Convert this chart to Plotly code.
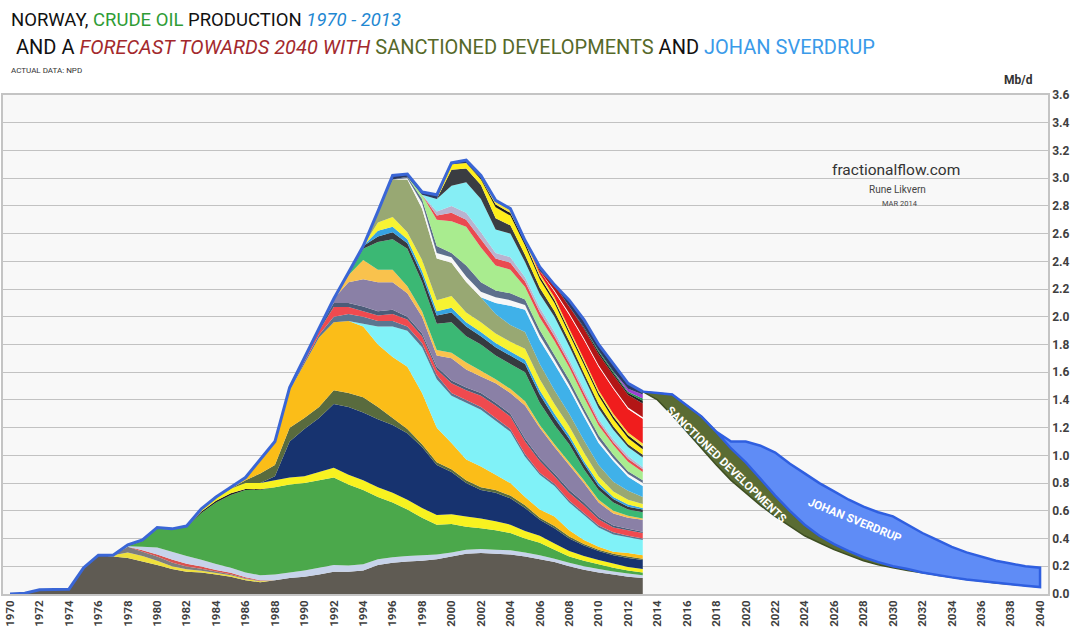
import plotly.graph_objects as go

# ---------------- historical data (Mb/d), 1970-2013 ----------------
years = list(range(1970, 2014))

total = [0.0, 0.006, 0.03, 0.032, 0.035, 0.19, 0.28, 0.28, 0.355, 0.39,
         0.48, 0.47, 0.49, 0.615, 0.70, 0.77, 0.84, 0.97, 1.10, 1.49,
         1.70, 1.92, 2.13, 2.32, 2.51, 2.76, 3.02, 3.03, 2.90, 2.88,
         3.11, 3.13, 3.02, 2.84, 2.78, 2.55, 2.36, 2.23, 2.12, 1.98,
         1.80, 1.66, 1.52, 1.46]

ekofisk = [0.0, 0.006, 0.03, 0.032, 0.035, 0.19, 0.28, 0.27, 0.26, 0.235,
           0.21, 0.18, 0.16, 0.155, 0.14, 0.125, 0.10, 0.085, 0.10, 0.115,
           0.125, 0.14, 0.16, 0.16, 0.17, 0.21, 0.225, 0.235, 0.24, 0.25,
           0.27, 0.29, 0.295, 0.29, 0.285, 0.27, 0.25, 0.23, 0.20, 0.175,
           0.155, 0.14, 0.125, 0.115]

# (first year, values from that year on)
field_y1 = (1977, [0.01, 0.04, 0.04, 0.03, 0.02, 0.018, 0.013, 0.012, 0.01, 0.008, 0.007])
field_g2 = (1978, [0.04, 0.03, 0.03, 0.028, 0.02, 0.015, 0.01, 0.008, 0.005, 0.003])
field_r1 = (1979, [0.01, 0.015, 0.02, 0.02, 0.015, 0.012, 0.01, 0.007, 0.005])
field_lav = (1978, [0.005, 0.025, 0.05, 0.057, 0.057, 0.049, 0.043, 0.037, 0.035, 0.035,
                    0.04, 0.04, 0.045, 0.05, 0.05, 0.045, 0.045, 0.04, 0.04, 0.04,
                    0.04, 0.035, 0.03, 0.03, 0.03, 0.03, 0.03, 0.03, 0.03, 0.025,
                    0.025, 0.025, 0.025, 0.023, 0.023, 0.02])
statfjord = (1979, [0.04, 0.135, 0.16, 0.21, 0.338, 0.443, 0.525, 0.595, 0.615, 0.63,
                    0.635, 0.63, 0.63, 0.63, 0.585, 0.535, 0.45, 0.395, 0.335, 0.27,
                    0.215, 0.205, 0.165, 0.15, 0.14, 0.125, 0.10, 0.09, 0.065, 0.045,
                    0.04, 0.035, 0.027, 0.022, 0.02])
field_bk1 = (1983, [0.01, 0.012, 0.012, 0.008, 0.006])
field_y2 = (1983, [0.015, 0.023, 0.033, 0.042, 0.044, 0.05, 0.05, 0.05, 0.06, 0.07,
                   0.07, 0.07, 0.07, 0.07, 0.07, 0.07, 0.07, 0.07, 0.075, 0.07,
                   0.065, 0.06, 0.055, 0.05, 0.045, 0.04, 0.035, 0.03, 0.03, 0.025, 0.025])
field_navy = (1988, [0.03, 0.26, 0.34, 0.39, 0.46, 0.49, 0.49, 0.49, 0.49, 0.48,
                     0.44, 0.36, 0.305, 0.24, 0.205, 0.205, 0.19, 0.165, 0.115, 0.11,
                     0.09, 0.075, 0.065, 0.06, 0.065, 0.065])
field_olive = (1986, [0.02, 0.07, 0.08, 0.10, 0.08, 0.08, 0.10, 0.10, 0.11, 0.09,
                      0.05, 0.03, 0.02, 0.02, 0.02, 0.02, 0.02, 0.02, 0.02, 0.02,
                      0.015, 0.015, 0.015, 0.01, 0.01, 0.01, 0.01, 0.01])
field_gold = (1986, [0.02, 0.10, 0.16, 0.27, 0.39, 0.50, 0.49, 0.52, 0.51, 0.45,
                     0.44, 0.45, 0.37, 0.25, 0.19, 0.15, 0.15, 0.11, 0.09, 0.06,
                     0.06, 0.07, 0.045, 0.03, 0.02, 0.015, 0.025, 0.025])
field_cyan = (1994, [0.02, 0.13, 0.22, 0.26, 0.33, 0.35, 0.34, 0.41, 0.41, 0.39,
                     0.37, 0.29, 0.25, 0.22, 0.20, 0.18, 0.14, 0.125, 0.115, 0.11])
field_slate1 = (1989, [0.01, 0.015, 0.02, 0.04, 0.05, 0.05, 0.04, 0.04, 0.03, 0.03,
                       0.03, 0.02, 0.02, 0.02, 0.02, 0.02, 0.02, 0.015, 0.015, 0.015,
                       0.015, 0.015, 0.015, 0.01, 0.01])
field_red2 = (1989, [0.007, 0.015, 0.03, 0.07, 0.05, 0.04, 0.04, 0.05, 0.05, 0.05,
                     0.04, 0.07, 0.07, 0.08, 0.09, 0.09, 0.09, 0.085, 0.055, 0.055,
                     0.055, 0.045, 0.035, 0.04, 0.04])
field_dslate = (1989, [0.003, 0.01, 0.015, 0.03, 0.03, 0.035, 0.03, 0.03, 0.02, 0.02,
                       0.02, 0.02, 0.02, 0.02, 0.02, 0.02, 0.02, 0.02, 0.02, 0.02,
                       0.02, 0.015, 0.015, 0.01, 0.01])
field_purple = (1992, [0.03, 0.15, 0.195, 0.21, 0.20, 0.17, 0.12, 0.08, 0.16, 0.13,
                       0.12, 0.14, 0.15, 0.24, 0.22, 0.19, 0.18, 0.14, 0.105, 0.085,
                       0.08, 0.085])
field_gold2 = (1993, [0.05, 0.14, 0.09, 0.09, 0.05, 0.04, 0.04, 0.04, 0.05, 0.04,
                      0.03, 0.03, 0.03, 0.02, 0.02, 0.02, 0.02, 0.02, 0.02, 0.015, 0.01])
field_green2 = (1994, [0.08, 0.20, 0.22, 0.27, 0.21, 0.19, 0.22, 0.19, 0.19, 0.17,
                       0.18, 0.21, 0.16, 0.14, 0.13, 0.08, 0.07, 0.06, 0.045, 0.045])
field_dark = (1994, [0.02, 0.04, 0.05, 0.04, 0.05, 0.06, 0.07, 0.07, 0.06, 0.06,
                     0.06, 0.06, 0.06, 0.05, 0.04, 0.04, 0.03, 0.025, 0.02, 0.02])
field_blue = (1995, [0.04, 0.04, 0.03, 0.03, 0.03, 0.036, 0.03, 0.03, 0.03, 0.03,
                     0.03, 0.03, 0.03, 0.025, 0.02, 0.02, 0.015, 0.015, 0.01])
field_y3 = (1995, [0.06, 0.07, 0.05, 0.08, 0.08, 0.084, 0.07, 0.07, 0.07, 0.07,
                   0.08, 0.08, 0.07, 0.065, 0.06, 0.05, 0.04, 0.035, 0.03])
field_sage = (1995, [0.08, 0.27, 0.38, 0.37, 0.30, 0.24, 0.22, 0.18, 0.14, 0.12,
                     0.12, 0.11, 0.10, 0.09, 0.09, 0.08, 0.07, 0.065, 0.05])
field_grane = (2003, [0.08, 0.14, 0.16, 0.17, 0.19, 0.18, 0.17, 0.16, 0.15, 0.10, 0.08])
field_white = (1997, [0.01, 0.04, 0.04, 0.04, 0.04, 0.04, 0.04, 0.04, 0.035, 0.035,
                      0.03, 0.03, 0.03, 0.025, 0.02, 0.02, 0.02])
field_slate3 = (1997, [0.01, 0.03, 0.05, 0.03, 0.08, 0.07, 0.05, 0.05, 0.04, 0.04,
                       0.035, 0.035, 0.03, 0.03, 0.025, 0.02, 0.02])
field_lgreen = (1998, [0.03, 0.19, 0.23, 0.28, 0.25, 0.18, 0.17, 0.09, 0.09, 0.10,
                       0.09, 0.08, 0.07, 0.07, 0.07, 0.06])
field_red3 = (1999, [0.03, 0.06, 0.05, 0.06, 0.05, 0.05, 0.04, 0.04, 0.035, 0.03,
                     0.03, 0.025, 0.02, 0.02, 0.02])
field_lav3 = (1999, [0.03, 0.05, 0.05, 0.05, 0.04, 0.04, 0.03, 0.03, 0.03, 0.025,
                     0.025, 0.02, 0.02, 0.02, 0.015])
field_cyan2 = (1999, [0.09, 0.145, 0.22, 0.24, 0.17, 0.17, 0.11, 0.10, 0.11, 0.10,
                      0.09, 0.08, 0.07, 0.065, 0.07])
field_dark2 = (2000, [0.115, 0.10, 0.10, 0.08, 0.06, 0.05, 0.045, 0.04, 0.035, 0.03,
                      0.03, 0.025, 0.02, 0.02])
field_y4 = (2000, [0.04, 0.04, 0.04, 0.08, 0.07, 0.07, 0.06, 0.06, 0.05, 0.06,
                   0.06, 0.05, 0.045, 0.04])
field_bk3 = (2002, [0.01, 0.02, 0.02, 0.02, 0.02, 0.02, 0.02, 0.02, 0.02, 0.02, 0.02, 0.02])
field_y5 = (2003, [0.02, 0.02, 0.02, 0.02, 0.02, 0.02, 0.02, 0.02, 0.02, 0.02, 0.02])
field_red4 = (2006, [0.02, 0.04, 0.10, 0.14, 0.17, 0.18, 0.17, 0.18])
field_white2 = (2007, [0.01, 0.01, 0.01, 0.01, 0.01, 0.01, 0.01])
field_dred = (2007, [0.04, 0.05, 0.07, 0.08, 0.09, 0.09, 0.10])
field_bk4 = (2009, [0.01, 0.015, 0.015, 0.015, 0.02])
field_green5 = (2010, [0.01, 0.01, 0.01, 0.015])
field_purple2 = (2012, [0.02, 0.03])

# ---------------- forecast (Mb/d), 2013-2040 ----------------
f_years = list(range(2013, 2041))
existing = [1.46, 1.40, 1.29, 1.17, 1.05, 0.93, 0.82, 0.73, 0.64, 0.56,
            0.49, 0.42, 0.37, 0.32, 0.28, 0.24, 0.21, 0.19, 0.17, 0.15,
            0.135, 0.12, 0.105, 0.09, 0.08, 0.07, 0.06, 0.05]
sanctioned = [0.0, 0.05, 0.15, 0.19, 0.23, 0.24, 0.23, 0.22, 0.19, 0.15,
              0.11, 0.08, 0.05, 0.04, 0.03, 0.025, 0.02, 0.01, 0.01, 0.005,
              0, 0, 0, 0, 0, 0, 0, 0]
sverdrup = [0, 0, 0, 0, 0, 0, 0.05, 0.15, 0.24, 0.31,
            0.34, 0.37, 0.38, 0.38, 0.37, 0.365, 0.36, 0.36, 0.32, 0.285,
            0.255, 0.22, 0.195, 0.18, 0.16, 0.15, 0.14, 0.14]

x_ticks = list(range(1970, 2041, 2))
y_ticks = [round(0.2 * i, 1) for i in range(19)]

# ---------------- build ----------------
def expand(field):
    start, vals = field
    arr = [0.0] * len(years)
    for i, v in enumerate(vals):
        arr[start - years[0] + i] = v
    return arr

layers = [
    (ekofisk, '#5f5b53'),
    (expand(field_y1), '#efe03c'),
    (expand(field_g2), '#7d7d7d'),
    (expand(field_r1), '#d9534f'),
    (expand(field_lav), '#c7d3ea'),
    (expand(statfjord), '#4ba84b'),
    (expand(field_bk1), '#222222'),
    (expand(field_y2), '#f8f220'),
    (expand(field_navy), '#17336f'),
    (expand(field_olive), '#596b3e'),
    (expand(field_gold), '#fbbd18'),
    (expand(field_cyan), '#80f2f8'),
    (expand(field_slate1), '#5b7591'),
    (expand(field_red2), '#ef4a4f'),
    (expand(field_dslate), '#4c5c78'),
    (expand(field_purple), '#8a80a6'),
    (expand(field_gold2), '#f9c24d'),
    (expand(field_green2), '#3bb874'),
    (expand(field_dark), '#363b40'),
    (expand(field_blue), '#36a3e2'),
    (expand(field_y3), '#f7f332'),
    (expand(field_sage), '#98a873'),
    (expand(field_grane), '#3fb1e9'),
    (expand(field_white), '#f7f7f7'),
    (expand(field_slate3), '#5d6f8c'),
    (expand(field_lgreen), '#a9ec8f'),
    (expand(field_red3), '#ea4a50'),
    (expand(field_lav3), '#b9b3cf'),
    (expand(field_cyan2), '#86eef5'),
    (expand(field_dark2), '#3a3d42'),
    (expand(field_y4), '#ffef1a'),
    (expand(field_bk3), '#1d1d1d'),
    (expand(field_y5), '#f7e43c'),
    (expand(field_red4), '#f01d1d'),
    (expand(field_white2), '#ffffff'),
    (expand(field_dred), '#b31616'),
    (expand(field_bk4), '#202020'),
    (expand(field_green5), '#1e9a4a'),
    (expand(field_purple2), '#9b3fd0'),
]

stack_sum = [sum(l[0][i] for l in layers) for i in range(len(years))]
remainder = [max(0.0, total[i] - stack_sum[i]) for i in range(len(years))]
layers.append((remainder, '#2b3a63'))

fig = go.Figure()
for vals, col in layers:
    fig.add_trace(go.Scatter(x=years, y=vals, stackgroup='hist', mode='none',
                             fillcolor=col, hoverinfo='skip'))

# historical outline
fig.add_trace(go.Scatter(x=years, y=total, mode='lines',
                         line=dict(color='#3a66d6', width=3), hoverinfo='skip'))

# forecast polygons
sd_top = [existing[i] + sanctioned[i] for i in range(len(f_years))]
js_top = [sd_top[i] + sverdrup[i] for i in range(len(f_years))]

fig.add_trace(go.Scatter(x=f_years + f_years[::-1], y=sd_top + existing[::-1],
                         fill='toself', fillcolor='#5a6c34', mode='lines',
                         line=dict(color='#3e4e22', width=1.5), hoverinfo='skip'))
fig.add_trace(go.Scatter(x=f_years + f_years[::-1], y=js_top + sd_top[::-1],
                         fill='toself', fillcolor='#5f8cf6', mode='lines',
                         line=dict(color='#2f5fe0', width=2.5), hoverinfo='skip'))

# ---------------- layout ----------------
PL, PR, PT, PB = 3, 1048, 95, 594
def to_px(x):
    return (x - PL) / (PR - PL)
def to_py(y):
    return (PB - y) / (PB - PT)

FONT = "Roboto, Liberation Sans, Arial, sans-serif"

def note(x, y, text, size, color, anchor='left', angle=0):
    fig.add_annotation(x=to_px(x), y=to_py(y), xref='paper', yref='paper',
                       xanchor=anchor, yanchor='middle', showarrow=False,
                       textangle=angle, text=text,
                       font=dict(family=FONT, size=size, color=color))

note(9, 20, "NORWAY, <span style=\"color:#2f9c35\">CRUDE OIL</span> PRODUCTION "
            "<span style=\"color:#1f88d2\"><i>1970 - 2013</i></span>", 18.5, '#111111')
note(14, 47, "AND A <span style=\"color:#a3292d\"><i>FORECAST TOWARDS 2040 WITH</i></span> "
             "<span style=\"color:#56692a\">SANCTIONED DEVELOPMENTS</span> AND "
             "<span style=\"color:#3a9ae9\">JOHAN SVERDRUP</span>", 20, '#111111')
note(9, 70, "ACTUAL DATA: NPD", 8, '#333333')
note(896, 170, "fractionalflow.com", 15.5, '#333333', 'center')
note(897, 189, "Rune Likvern", 10, '#444444', 'center')
note(900, 203, "MAR 2014", 7.5, '#444444', 'center')
note(1018, 80, "<b>Mb/d</b>", 12, '#333333', 'center')
note(726, 464, "<b>SANCTIONED DEVELOPMENTS</b>", 11.5, 'white', 'center', 44)
note(855, 520, "<b>JOHAN SVERDRUP</b>", 11.5, 'white', 'center', 22)

fig.update_layout(
    width=1077, height=627,
    margin=dict(l=PL, r=1077 - PR, t=PT, b=627 - PB, pad=0),
    paper_bgcolor='white', plot_bgcolor='#f8f8f8',
    showlegend=False,
    xaxis=dict(range=[1969.52, 2040.54], tickvals=x_ticks, tickangle=-90,
               tickfont=dict(family=FONT, size=11.5, color='#404040', weight='bold'),
               showgrid=False, zeroline=False, showline=True, mirror=True,
               linecolor='#c4c4c4', linewidth=1.5, ticks='', automargin=False),
    yaxis=dict(range=[0, 3.6], tickvals=y_ticks, tickformat='.1f', side='right',
               tickfont=dict(family=FONT, size=12, color='#404040', weight='bold'),
               showgrid=True, gridcolor='#c2c2c2', gridwidth=1.3, zeroline=False,
               showline=True, mirror=True, linecolor='#c4c4c4', linewidth=1.5,
               ticks='', automargin=False),
)

fig.write_html("out.html", config={'displayModeBar': False},
               post_script="document.body.style.margin='0';document.body.style.padding='0';")
